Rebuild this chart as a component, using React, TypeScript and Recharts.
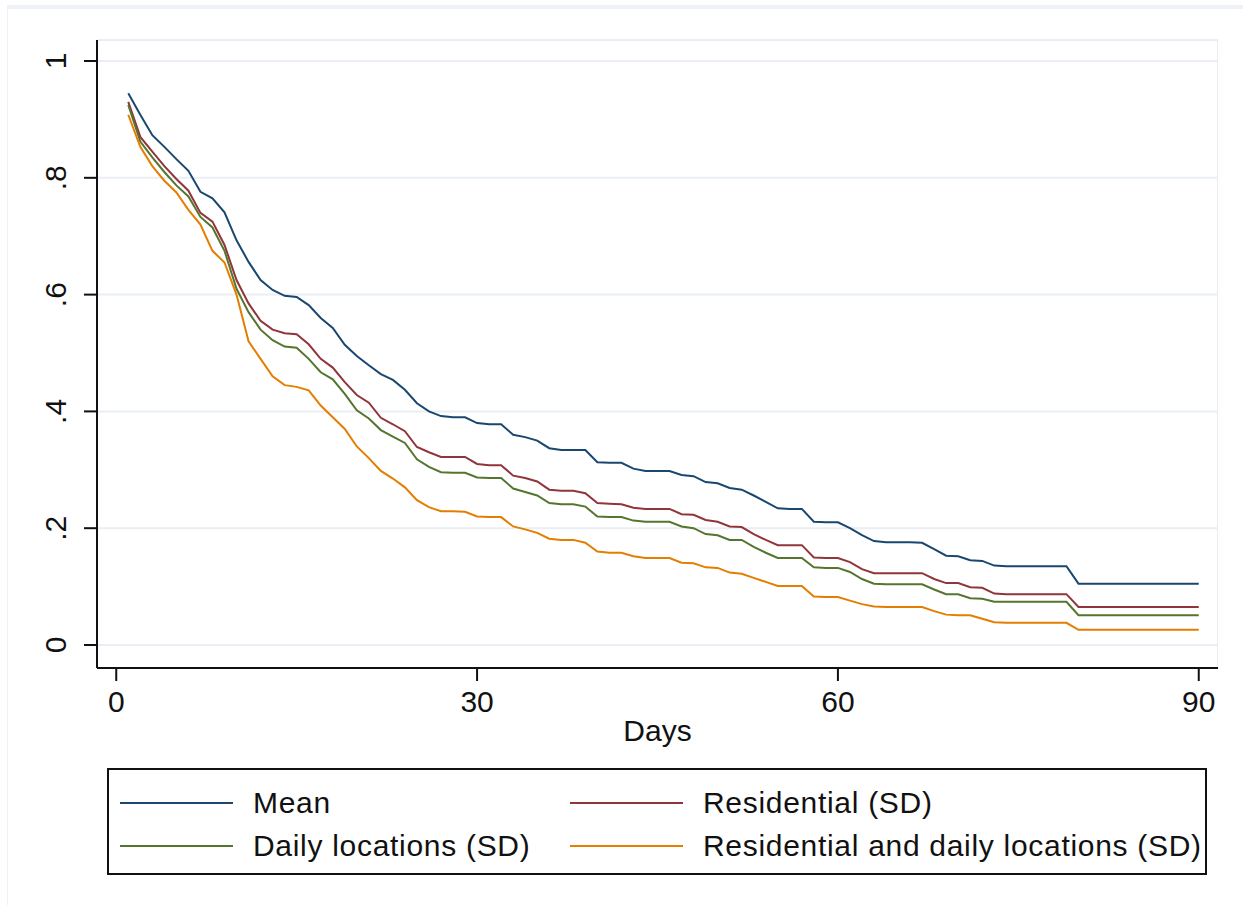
import React from "react";
import {
  LineChart,
  Line,
  XAxis,
  YAxis,
  CartesianGrid,
  ReferenceArea,
  Legend,
} from "recharts";

const days = [
  1, 2, 3, 4, 5, 6, 7, 8, 9, 10, 11, 12, 13, 14, 15, 16, 17, 18, 19, 20, 21, 22,
  23, 24, 25, 26, 27, 28, 29, 30, 31, 32, 33, 34, 35, 36, 37, 38, 39, 40, 41, 42,
  43, 44, 45, 46, 47, 48, 49, 50, 51, 52, 53, 54, 55, 56, 57, 58, 59, 60, 61, 62,
  63, 64, 65, 66, 67, 68, 69, 70, 71, 72, 73, 74, 75, 76, 77, 78, 79, 80, 81, 82,
  83, 84, 85, 86, 87, 88, 89, 90,
];

const meanVals = [
  0.945, 0.908, 0.873, 0.853, 0.832, 0.812, 0.776, 0.765, 0.741, 0.693,
  0.656, 0.625, 0.608, 0.598, 0.596, 0.582, 0.56, 0.543, 0.514, 0.495,
  0.479, 0.464, 0.454, 0.437, 0.414, 0.4, 0.392, 0.39, 0.39, 0.38,
  0.378, 0.378, 0.36, 0.356, 0.35, 0.337, 0.334, 0.334, 0.334, 0.313,
  0.312, 0.312, 0.302, 0.298, 0.298, 0.298, 0.291, 0.289, 0.279, 0.277,
  0.269, 0.266, 0.256, 0.245, 0.234, 0.233, 0.233, 0.211, 0.21, 0.21,
  0.2, 0.188, 0.178, 0.176, 0.176, 0.176, 0.175, 0.164, 0.153, 0.152,
  0.145, 0.144, 0.136, 0.135, 0.135, 0.135, 0.135, 0.135, 0.135, 0.105,
  0.105, 0.105, 0.105, 0.105, 0.105, 0.105, 0.105, 0.105, 0.105, 0.105,
];

const residentialVals = [
  0.93, 0.87, 0.845, 0.82, 0.798, 0.778, 0.74, 0.725, 0.685, 0.625,
  0.585, 0.555, 0.54, 0.534, 0.532, 0.515, 0.49, 0.475, 0.45, 0.428,
  0.415, 0.389, 0.378, 0.366, 0.339, 0.33, 0.322, 0.322, 0.322, 0.31,
  0.308, 0.308, 0.29, 0.286, 0.28, 0.266, 0.264, 0.264, 0.26, 0.243,
  0.242, 0.241, 0.235, 0.233, 0.233, 0.233, 0.224, 0.223, 0.214, 0.211,
  0.203, 0.202, 0.19, 0.18, 0.171, 0.171, 0.171, 0.15, 0.149, 0.149,
  0.142, 0.13, 0.123, 0.123, 0.123, 0.123, 0.123, 0.113, 0.106, 0.106,
  0.099, 0.098, 0.088, 0.087, 0.087, 0.087, 0.087, 0.087, 0.087, 0.065,
  0.065, 0.065, 0.065, 0.065, 0.065, 0.065, 0.065, 0.065, 0.065, 0.065,
];

const dailyVals = [
  0.925, 0.862, 0.835, 0.81, 0.787, 0.768, 0.733, 0.715, 0.675, 0.61,
  0.57, 0.54, 0.522, 0.511, 0.509, 0.49, 0.467, 0.455, 0.43, 0.402,
  0.388, 0.368, 0.357, 0.346, 0.318, 0.305, 0.296, 0.295, 0.295, 0.287,
  0.286, 0.286, 0.268, 0.262, 0.256, 0.243, 0.241, 0.241, 0.237, 0.22,
  0.219, 0.219, 0.213, 0.211, 0.211, 0.211, 0.203, 0.2, 0.19, 0.188,
  0.18, 0.18, 0.168, 0.158, 0.149, 0.149, 0.149, 0.133, 0.132, 0.132,
  0.125, 0.113, 0.105, 0.104, 0.104, 0.104, 0.104, 0.095, 0.087, 0.087,
  0.08, 0.079, 0.074, 0.074, 0.074, 0.074, 0.074, 0.074, 0.074, 0.051,
  0.051, 0.051, 0.051, 0.051, 0.051, 0.051, 0.051, 0.051, 0.051, 0.051,
];

const bothVals = [
  0.908, 0.853, 0.82, 0.795, 0.775, 0.745, 0.72, 0.675, 0.655, 0.6,
  0.52, 0.49, 0.46, 0.445, 0.442, 0.436, 0.41, 0.39, 0.37, 0.34,
  0.32, 0.298, 0.285, 0.27, 0.248, 0.236, 0.229, 0.229, 0.228, 0.22,
  0.219, 0.219, 0.203, 0.198, 0.192, 0.182, 0.18, 0.18, 0.175, 0.16,
  0.158, 0.158, 0.152, 0.149, 0.149, 0.149, 0.141, 0.14, 0.133, 0.132,
  0.124, 0.122, 0.115, 0.108, 0.101, 0.101, 0.101, 0.083, 0.082, 0.082,
  0.076, 0.07, 0.066, 0.065, 0.065, 0.065, 0.065, 0.058, 0.052, 0.051,
  0.051, 0.045, 0.039, 0.038, 0.038, 0.038, 0.038, 0.038, 0.038, 0.026,
  0.026, 0.026, 0.026, 0.026, 0.026, 0.026, 0.026, 0.026, 0.026, 0.026,
];

const xTicks = [0, 30, 60, 90];
const yTicks = [0, 0.2, 0.4, 0.6, 0.8, 1];
const yTickLabels = ["0", ".2", ".4", ".6", ".8", "1"];

const series = [
  { key: "mean", name: "Mean", color: "#1a476f" },
  { key: "residential", name: "Residential (SD)", color: "#90353b" },
  { key: "daily", name: "Daily locations (SD)", color: "#55752f" },
  { key: "both", name: "Residential and daily locations (SD)", color: "#e37e00" },
];

const data = days.map((d, i) => ({
  day: d,
  mean: meanVals[i],
  residential: residentialVals[i],
  daily: dailyVals[i],
  both: bothVals[i],
}));

const X_DOMAIN: [number, number] = [-1.6, 91.6];
const Y_DOMAIN: [number, number] = [-0.0394, 1.036];
const FONT = "'Liberation Sans', Arial, sans-serif";

const XTick = (props: any) => {
  const { x, y, payload } = props;
  return (
    <text x={x} y={y + 31} textAnchor="middle" fontSize={30} fill="#111" fontFamily={FONT}>
      {payload.value}
    </text>
  );
};

const YTick = (props: any) => {
  const { x, y, payload } = props;
  const idx = yTicks.indexOf(payload.value);
  const cx = x - 28;
  return (
    <text
      x={cx}
      y={y}
      transform={`rotate(-90, ${cx}, ${y})`}
      textAnchor="middle"
      dominantBaseline="central"
      fontSize={30}
      fill="#111"
      fontFamily={FONT}
    >
      {idx >= 0 ? yTickLabels[idx] : payload.value}
    </text>
  );
};

const LegendBox = (props: any) => {
  const items = [...(props.payload || [])].sort(
    (a: any, b: any) =>
      series.findIndex((s) => s.name === a.value) -
      series.findIndex((s) => s.name === b.value)
  );
  return (
    <div
      style={{
        width: 1100,
        height: 107,
        boxSizing: "border-box",
        border: "2px solid #111",
        display: "grid",
        gridTemplateColumns: "450px 1fr",
        gridTemplateRows: "43px 43px",
        paddingTop: 11,
        paddingLeft: 11,
        fontFamily: FONT,
        fontSize: 30,
        letterSpacing: 0.7,
        color: "#111",
        background: "#fff",
        overflow: "hidden",
      }}
    >
      {items.map((it: any) => (
        <div key={it.value} style={{ display: "flex", alignItems: "center", whiteSpace: "nowrap" }}>
          <span
            style={{
              display: "inline-block",
              width: 113,
              height: 0,
              borderTop: `2px solid ${it.color}`,
              marginRight: 20,
            }}
          />
          <span>{it.value}</span>
        </div>
      ))}
    </div>
  );
};

export default function App() {
  return (
    <div
      style={{
        position: "absolute",
        left: 0,
        top: 0,
        width: 1243,
        height: 905,
        background: "#fff",
      }}
    >
      <div
        style={{
          position: "absolute",
          left: 7,
          top: 5,
          right: 0,
          bottom: 0,
          borderTop: "4px solid #eef1f5",
          borderLeft: "1px solid #eef1f5",
        }}
      />
      <LineChart
        width={1243}
        height={905}
        data={data}
        margin={{ top: 40, right: 25, left: 17, bottom: 177 }}
        style={{ position: "absolute", left: 0, top: 0 }}
      >
        <ReferenceArea
          x1={X_DOMAIN[0]}
          x2={X_DOMAIN[1]}
          y1={Y_DOMAIN[0]}
          y2={Y_DOMAIN[1]}
          fill="none"
          stroke="#e8edf3"
          strokeWidth={2}
          ifOverflow="hidden"
        />
        <CartesianGrid vertical={false} stroke="#eaeff5" strokeWidth={2} />
        <XAxis
          dataKey="day"
          type="number"
          domain={X_DOMAIN}
          ticks={xTicks}
          allowDataOverflow
          height={60}
          tickSize={13}
          tickMargin={0}
          tick={<XTick />}
          axisLine={{ stroke: "#111", strokeWidth: 2 }}
          tickLine={{ stroke: "#111", strokeWidth: 2 }}
          label={{
            content: (p: any) => {
              const vb = p.viewBox || {};
              return (
                <text
                  x={vb.x + vb.width / 2}
                  y={741}
                  textAnchor="middle"
                  fontSize={30}
                  fill="#111"
                  fontFamily={FONT}
                >
                  Days
                </text>
              );
            },
          }}
        />
        <YAxis
          type="number"
          domain={Y_DOMAIN}
          ticks={yTicks}
          allowDataOverflow
          width={80}
          tickSize={13}
          tickMargin={0}
          tick={<YTick />}
          axisLine={{ stroke: "#111", strokeWidth: 2 }}
          tickLine={{ stroke: "#111", strokeWidth: 2 }}
        />
        <Legend
          layout="horizontal"
          verticalAlign="middle"
          align="center"
          content={<LegendBox />}
          wrapperStyle={{ left: 107, top: 768, width: 1100, height: 107 }}
        />
        {series.map((s) => (
          <Line
            key={s.key}
            type="linear"
            dataKey={s.key}
            name={s.name}
            stroke={s.color}
            strokeWidth={2}
            dot={false}
            activeDot={false}
            isAnimationActive={false}
          />
        ))}
      </LineChart>
    </div>
  );
}
